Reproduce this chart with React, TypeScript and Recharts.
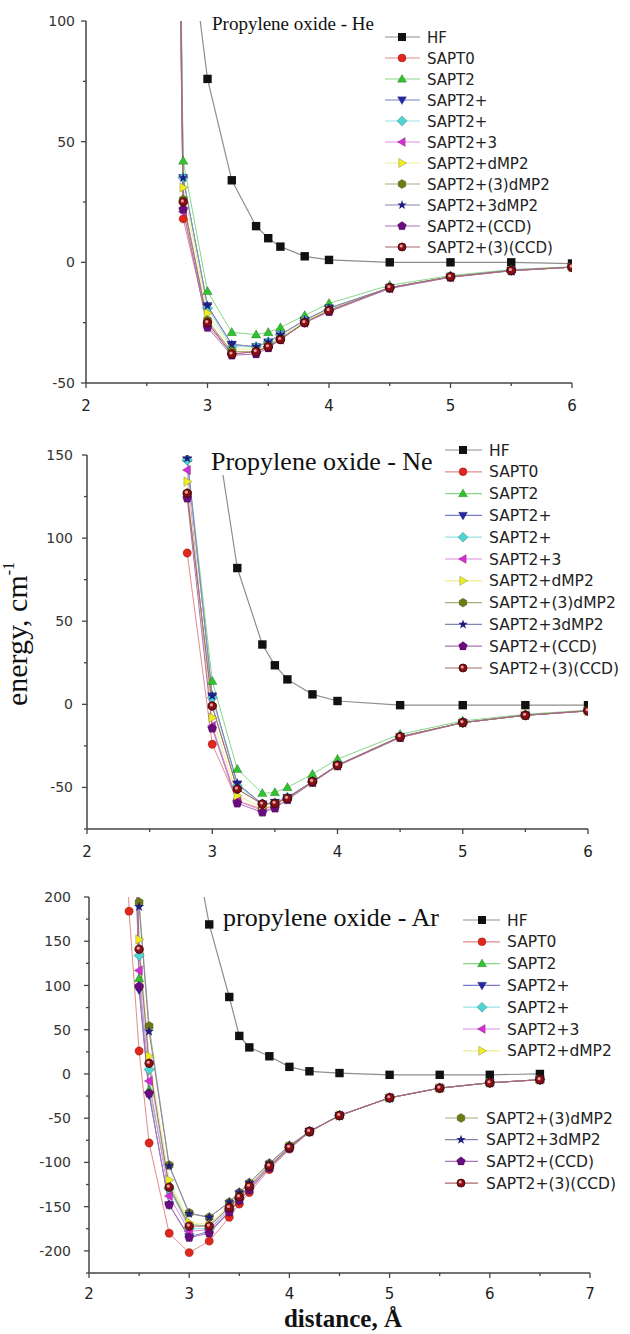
import React from 'react';
import { LineChart, Line, XAxis, YAxis } from 'recharts';

// ---- propylene oxide - He ----
const HE_X = [2.7, 2.8, 3.0, 3.2, 3.4, 3.5, 3.6, 3.8, 4.0, 4.5, 5.0, 5.5, 6.0];
const HE_HF = [null, 156, 76, 34, 15, 10, 6.5, 2.5, 1, 0, 0, 0, -0.5];
const HE_SAPT0 = [400, 18, -25, -37, -37, -35, -32, -25, -20, -10.5, -6, -3.5, -2];
const HE_SAPT2 = [440, 42, -12, -29, -30, -29, -27, -22, -17, -9.5, -5.5, -3, -1.8];
const HE_SAPT2P = [430, 35, -18, -34, -35, -33, -30, -24, -19, -10.5, -6, -3.3, -2];
const HE_SAPT2P_B = [430, 35, -19, -35, -35, -33, -30, -24, -19.5, -10.5, -6, -3.3, -2];
const HE_SAPT2P3 = [405, 21, -26, -38, -37, -35, -32, -25, -20, -10.8, -6.2, -3.5, -2];
const HE_DMP2 = [420, 31, -21, -36, -36, -34, -31, -24.5, -19.5, -10.5, -6, -3.4, -2];
const HE_3DMP2 = [410, 26, -24, -37, -37, -34.5, -31.5, -25, -20, -10.6, -6, -3.4, -2];
const HE_P3DMP2 = [430, 35, -18, -34, -35, -33, -30, -24, -19, -10.5, -6, -3.3, -2];
const HE_CCD = [405, 22, -27, -38.5, -38, -35.5, -32, -25, -20.5, -10.8, -6.2, -3.5, -2];
const HE_3CCD = [410, 25, -25, -38, -37, -35, -32, -25, -20, -10.5, -6, -3.4, -2];

// ---- propylene oxide - Ne ----
const NE_X = [2.8, 3.0, 3.2, 3.4, 3.5, 3.6, 3.8, 4.0, 4.5, 5.0, 5.5, 6.0];
const NE_HF = [null, 180, 82, 36, 23.5, 15, 6, 2, -0.5, -0.5, -0.5, -0.5];
const NE_SAPT0 = [91, -24, -58, -63, -61, -57, -47, -37, -20, -11, -6.5, -4];
const NE_SAPT2 = [148, 14, -39, -53.5, -53, -50, -42, -33, -18, -10, -6, -3.5];
const NE_SAPT2P = [147, 5, -48, -60, -59, -56, -46.5, -36.5, -19.5, -11, -6.5, -4];
const NE_SAPT2P_B = [147, 4, -49, -60, -59.5, -56, -46.5, -36.5, -19.5, -11, -6.5, -4];
const NE_SAPT2P3 = [141, -13, -58, -64, -62, -57, -47, -37, -20, -11, -6.6, -4];
const NE_DMP2 = [134, -8, -55, -62, -61, -57, -47, -37, -20, -11, -6.6, -4];
const NE_3DMP2 = [127, -1, -51, -60, -59.5, -56.5, -46.5, -36.7, -19.5, -11, -6.6, -3.9];
const NE_P3DMP2 = [148, 5, -47.5, -60, -59.5, -56, -46.5, -36.5, -19.5, -11, -6.5, -3.9];
const NE_CCD = [124, -14.5, -59.5, -65, -62.5, -57.5, -47, -37, -20, -11, -6.6, -4];
const NE_3CCD = [127, -1, -51, -60, -59.6, -56.6, -46.4, -36.7, -19.5, -11, -6.6, -3.9];

// ---- propylene oxide - Ar ----
const AR_X = [2.3, 2.4, 2.5, 2.6, 2.8, 3.0, 3.2, 3.4, 3.5, 3.6, 3.8, 4.0, 4.2, 4.5, 5.0, 5.5, 6.0, 6.5];
const AR_HF = [null, null, null, null, null, 290, 169, 87, 43, 30, 20, 8, 3, 1, -1, -1, -1, 0];
const AR_SAPT0 = [520, 184, 26, -78, -180, -202, -189, -162, -147, -134, -108, -85, -66, -47, -27, -16, -10, -6.5];
const AR_SAPT2 = [null, 560, 108, -18, -125, -170, -172, -150, -138, -126, -103, -82, -65, -47, -27, -16, -10, -6.5];
const AR_SAPT2P = [null, 540, 95, -24, -148, -184, -178, -156, -143, -131, -106, -84, -65, -47, -27, -16, -10, -6.5];
const AR_SAPT2P_B = [null, 590, 134, 5, -130, -175, -175, -152, -140, -128, -104, -83, -65, -47, -27, -16, -10, -6.5];
const AR_SAPT2P3 = [null, 570, 117, -8, -138, -178, -176, -154, -141, -129, -105, -83, -65, -47, -27, -16, -10, -6.5];
const AR_DMP2 = [null, 610, 152, 20, -120, -168, -170, -149, -137, -126, -103, -82, -65, -47, -27, -16, -10, -6.5];
const AR_3DMP2 = [null, 660, 194, 54, -103, -157, -162, -145, -134, -123, -101, -81, -65, -47, -27, -16, -10, -6.5];
const AR_P3DMP2 = [null, 650, 189, 48, -104, -158, -162, -145, -134, -123, -101, -81, -65, -47, -27, -16, -10, -6.5];
const AR_CCD = [null, 545, 99, -22, -148, -185, -180, -156, -143, -131, -106, -84, -65, -47, -27, -16, -10, -6.5];
const AR_3CCD = [null, 600, 141, 12, -128, -172, -172, -151, -139, -127, -104, -83, -65, -47, -27, -16, -10, -6.5];

// tick values
const HE_X_TICKS = [2, 2.5, 3, 3.5, 4, 4.5, 5, 5.5, 6];
const HE_Y_TICKS = [-50, -25, 0, 25, 50, 75, 100];
const NE_X_TICKS = [2, 2.5, 3, 3.5, 4, 4.5, 5, 5.5, 6];
const NE_Y_TICKS = [-75, -50, -25, 0, 25, 50, 75, 100, 125, 150];
const AR_X_TICKS = [2, 2.5, 3, 3.5, 4, 4.5, 5, 5.5, 6, 6.5, 7];
const AR_Y_TICKS = [-225, -200, -175, -150, -125, -100, -75, -50, -25, 0, 25, 50, 75, 100, 125, 150, 175, 200];

const SERIES = [
  { key: 'hf', name: 'HF', shape: 'square', fill: '#111', line: '#8e8e8e' },
  { key: 's0', name: 'SAPT0', shape: 'circle', fill: '#e3261c', line: '#e58a8a' },
  { key: 's2', name: 'SAPT2', shape: 'triUp', fill: '#2ec42e', line: '#86d886' },
  { key: 's2p', name: 'SAPT2+', shape: 'triDown', fill: '#2428a8', line: '#7c7cc8' },
  { key: 's2pb', name: 'SAPT2+', shape: 'diamond', fill: '#4fd4d4', line: '#9ae4e4' },
  { key: 's2p3', name: 'SAPT2+3', shape: 'triLeft', fill: '#d62ed6', line: '#e08ae0' },
  { key: 'dmp2', name: 'SAPT2+dMP2', shape: 'triRight', fill: '#eeee22', line: '#eeee90' },
  { key: 'd3mp2', name: 'SAPT2+(3)dMP2', shape: 'hexagon', fill: '#6e7a12', line: '#a8ae78' },
  { key: 'p3mp2', name: 'SAPT2+3dMP2', shape: 'star', fill: '#1e1e80', line: '#8484b0' },
  { key: 'ccd', name: 'SAPT2+(CCD)', shape: 'pentagon', fill: '#6a0c80', line: '#a874b4' },
  { key: 'ccd3', name: 'SAPT2+(3)(CCD)', shape: 'sphere', fill: '#8a0f14', line: '#a86a6a' },
];

const HE_COLS = [HE_HF, HE_SAPT0, HE_SAPT2, HE_SAPT2P, HE_SAPT2P_B, HE_SAPT2P3, HE_DMP2, HE_3DMP2, HE_P3DMP2, HE_CCD, HE_3CCD];
const NE_COLS = [NE_HF, NE_SAPT0, NE_SAPT2, NE_SAPT2P, NE_SAPT2P_B, NE_SAPT2P3, NE_DMP2, NE_3DMP2, NE_P3DMP2, NE_CCD, NE_3CCD];
const AR_COLS = [AR_HF, AR_SAPT0, AR_SAPT2, AR_SAPT2P, AR_SAPT2P_B, AR_SAPT2P3, AR_DMP2, AR_3DMP2, AR_P3DMP2, AR_CCD, AR_3CCD];

function buildRows(xs: number[], cols: (number | null)[][]) {
  return xs.map((x, i) => {
    const row: any = { x };
    SERIES.forEach((s, j) => {
      row[s.key] = cols[j][i];
    });
    return row;
  });
}

const SANS = '"DejaVu Sans", sans-serif';
const SERIF = '"Liberation Serif", "Times New Roman", serif';

function poly(cx: number, cy: number, r: number, n: number, rot: number) {
  const pts: string[] = [];
  for (let i = 0; i < n; i++) {
    const a = rot + (i * 2 * Math.PI) / n;
    pts.push(`${cx + r * Math.cos(a)},${cy + r * Math.sin(a)}`);
  }
  return pts.join(' ');
}

function starPts(cx: number, cy: number, r: number) {
  const pts: string[] = [];
  for (let i = 0; i < 10; i++) {
    const rr = i % 2 === 0 ? r * 1.25 : r * 0.5;
    const a = -Math.PI / 2 + (i * Math.PI) / 5;
    pts.push(`${cx + rr * Math.cos(a)},${cy + rr * Math.sin(a)}`);
  }
  return pts.join(' ');
}

function Marker({ cx, cy, shape, fill, r = 4.2 }: any) {
  if (cx == null || cy == null || Number.isNaN(cx) || Number.isNaN(cy)) return null;
  const st = { fill, stroke: 'rgba(0,0,0,0.35)', strokeWidth: 0.6 };
  switch (shape) {
    case 'square':
      return <rect x={cx - r} y={cy - r} width={2 * r} height={2 * r} fill={fill} />;
    case 'circle':
      return <circle cx={cx} cy={cy} r={r} {...st} />;
    case 'triUp':
      return <polygon points={poly(cx, cy + 0.6, r * 1.3, 3, -Math.PI / 2)} {...st} />;
    case 'triDown':
      return <polygon points={poly(cx, cy - 0.6, r * 1.3, 3, Math.PI / 2)} {...st} />;
    case 'triLeft':
      return <polygon points={poly(cx + 0.6, cy, r * 1.3, 3, Math.PI)} {...st} />;
    case 'triRight':
      return <polygon points={poly(cx - 0.6, cy, r * 1.3, 3, 0)} {...st} />;
    case 'diamond':
      return <polygon points={poly(cx, cy, r * 1.25, 4, 0)} {...st} />;
    case 'hexagon':
      return <polygon points={poly(cx, cy, r * 1.1, 6, Math.PI / 6)} {...st} />;
    case 'pentagon':
      return <polygon points={poly(cx, cy, r * 1.15, 5, -Math.PI / 2)} {...st} />;
    case 'star':
      return <polygon points={starPts(cx, cy, r)} fill={fill} />;
    case 'sphere':
      return (
        <g>
          <circle cx={cx} cy={cy} r={r} fill={fill} stroke="#3a0000" strokeWidth={0.8} />
          <circle cx={cx - r * 0.2} cy={cy - r * 0.25} r={r * 0.38} fill="#e8a0a0" />
        </g>
      );
    default:
      return null;
  }
}

function XTick({ x, y, payload, labelDy, fontSize }: any) {
  const v = payload.value;
  const major = Number.isInteger(v);
  return (
    <g>
      <line x1={x} x2={x} y1={y} y2={y + (major ? 5 : 3)} stroke="#444" strokeWidth={1.3} />
      {major && (
        <text x={x} y={y + labelDy} textAnchor="middle" fontFamily={SANS} fontSize={fontSize} fill="#222">
          {v}
        </text>
      )}
    </g>
  );
}

function YTick({ x, y, payload, gap, fontSize }: any) {
  const v = payload.value;
  const major = v % 50 === 0;
  return (
    <g>
      <line x1={x} x2={x - (major ? 5 : 3)} y1={y} y2={y} stroke="#444" strokeWidth={1.3} />
      {major && (
        <text x={x - gap} y={y} dy="0.36em" textAnchor="end" fontFamily={SANS} fontSize={fontSize} fill="#333">
          {v}
        </text>
      )}
    </g>
  );
}

function Panel({ top, height, margin, yWidth, rows, xDomain, yDomain, xTicks, yTicks, yGap, xLabelDy }: any) {
  return (
    <div style={{ position: 'absolute', left: 0, top, width: 630, height }}>
      <LineChart width={630} height={height} data={rows} margin={margin}>
        <XAxis
          dataKey="x"
          type="number"
          domain={xDomain}
          ticks={xTicks}
          interval={0}
          allowDataOverflow
          height={30}
          tickSize={0}
          tickMargin={0}
          tickLine={false}
          axisLine={{ stroke: '#444', strokeWidth: 1.5 }}
          tick={<XTick labelDy={xLabelDy} fontSize={15} />}
        />
        <YAxis
          type="number"
          domain={yDomain}
          ticks={yTicks}
          interval={0}
          allowDataOverflow
          width={yWidth}
          tickSize={0}
          tickMargin={0}
          tickLine={false}
          axisLine={{ stroke: '#444', strokeWidth: 1.5 }}
          tick={<YTick gap={yGap} fontSize={14} />}
        />
        {SERIES.map((s) => (
          <Line
            key={s.key}
            dataKey={s.key}
            name={s.name}
            type="linear"
            stroke={s.line}
            strokeWidth={s.key === 'hf' ? 1.2 : 1}
            connectNulls
            isAnimationActive={false}
            dot={(p: any) => {
              const { key, ...rest } = p;
              return (
                <g key={key}>
                  <Marker cx={rest.cx} cy={rest.cy} shape={s.shape} fill={s.fill} />
                </g>
              );
            }}
            activeDot={false}
          />
        ))}
      </LineChart>
    </div>
  );
}

function LegendRows({ items, y0, dy, lx1, lx2, mx, tx, fontSize }: any) {
  return (
    <g>
      {items.map((s: any, i: number) => {
        const y = y0 + i * dy;
        return (
          <g key={s.key + i}>
            <line x1={lx1} x2={lx2} y1={y} y2={y} stroke={s.line} strokeWidth={1.2} />
            <Marker cx={mx} cy={y} shape={s.shape} fill={s.fill} r={4} />
            <text x={tx} y={y + 5.5} fontFamily={SANS} fontSize={fontSize} fill="#222">
              {s.name}
            </text>
          </g>
        );
      })}
    </g>
  );
}

export default function App() {
  const heRows = buildRows(HE_X, HE_COLS);
  const neRows = buildRows(NE_X, NE_COLS);
  const arRows = buildRows(AR_X, AR_COLS);

  return (
    <div style={{ position: 'absolute', left: 0, top: 0, width: 630, height: 1334, background: '#fff', overflow: 'hidden' }}>
      <Panel
        top={0}
        height={420}
        margin={{ top: 21, right: 58, bottom: 7, left: 0 }}
        yWidth={86}
        rows={heRows}
        xDomain={[2, 6]}
        yDomain={[-50, 100]}
        xTicks={HE_X_TICKS}
        yTicks={HE_Y_TICKS}
        yGap={11}
        xLabelDy={28}
      />
      <Panel
        top={420}
        height={440}
        margin={{ top: 35, right: 42, bottom: 1, left: 0 }}
        yWidth={87}
        rows={neRows}
        xDomain={[2, 6]}
        yDomain={[-75, 150]}
        xTicks={NE_X_TICKS}
        yTicks={NE_Y_TICKS}
        yGap={14}
        xLabelDy={28}
      />
      <Panel
        top={860}
        height={474}
        margin={{ top: 37, right: 40, bottom: 31, left: 0 }}
        yWidth={89}
        rows={arRows}
        xDomain={[2, 7]}
        yDomain={[-225, 200]}
        xTicks={AR_X_TICKS}
        yTicks={AR_Y_TICKS}
        yGap={18}
        xLabelDy={26}
      />
      <svg width={630} height={1334} style={{ position: 'absolute', left: 0, top: 0, pointerEvents: 'none' }}>
        {/* titles */}
        <text x={212} y={30} fontFamily={SERIF} fontSize={19} fill="#111">Propylene oxide - He</text>
        <rect x={209} y={449} width={232} height={26} fill="#fff" />
        <text x={211} y={470} fontFamily={SERIF} fontSize={26} fill="#111">Propylene oxide - Ne</text>
        <text x={223} y={926} fontFamily={SERIF} fontSize={26} fill="#111">propylene oxide - Ar</text>

        {/* legends */}
        <LegendRows items={SERIES} y0={37} dy={21} lx1={385} lx2={420} mx={402} tx={427} fontSize={15} />
        <LegendRows items={SERIES} y0={450} dy={21.8} lx1={445} lx2={482} mx={463} tx={489} fontSize={15.5} />
        <LegendRows items={SERIES.slice(0, 7)} y0={920} dy={21.8} lx1={463} lx2={500} mx={482} tx={507} fontSize={15.5} />
        <LegendRows items={SERIES.slice(7)} y0={1118} dy={21.7} lx1={445} lx2={478} mx={461} tx={486} fontSize={15.5} />

        {/* axis titles */}
        <text transform="translate(27,634) rotate(-90)" textAnchor="middle" fontFamily={SERIF} fontSize={30} fill="#111">
          energy, cm<tspan fontSize={16} dy={-13}>-1</tspan>
        </text>
        <text x={343} y={1327} textAnchor="middle" fontFamily={SERIF} fontWeight="bold" fontSize={25} fill="#111">
          distance, Å
        </text>
      </svg>
    </div>
  );
}
